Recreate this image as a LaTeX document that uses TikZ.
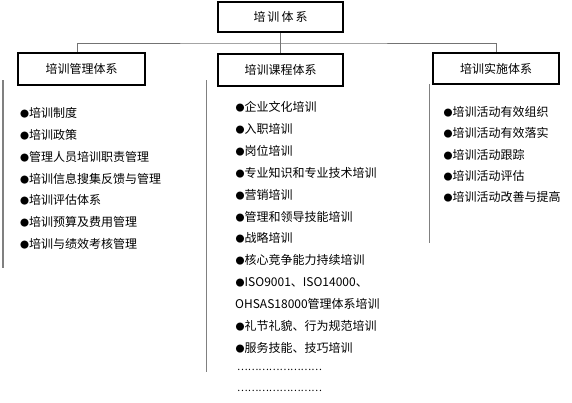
\documentclass[tikz,border=0pt]{standalone}
\usepackage{fontspec}
\setmainfont{Noto Sans CJK SC}
\usepackage{tikz}
\usetikzlibrary{positioning}
\newcommand{\bul}{{\fontsize{9}{9}\selectfont ●}}
\tikzset{box/.style={rectangle,draw=black,line width=1.6pt,inner sep=0pt,
                     font=\fontsize{12}{14}\selectfont},
         link/.style={draw=black!55,line width=0.8pt},
         guide/.style={draw=black!50,line width=1.3pt},
         item/.style={anchor=west,inner sep=0pt,font=\fontsize{12}{14}\selectfont}}

\begin{document}
\begin{tikzpicture}[x=1pt,y=-1pt]

\useasboundingbox (0,0) rectangle (572,402);

%Boxes
 \node[box,minimum width=125pt,minimum height=30pt] (Root) at (280.5,17) {培\kern2pt 训\kern2pt 体\kern2pt 系};
 \node[box,minimum width=127pt,minimum height=32pt] (Mgmt) at (81.5,69) {培训管理体系};
 \node[box,minimum width=125pt,minimum height=32pt] (Course) at (280.5,70) {培训课程体系};
 \node[box,minimum width=126pt,minimum height=31pt] (Impl) at (496,68.5) {培训实施体系};

%Connectors
 \coordinate (Bar) at (280.5,43);
 \draw[link] ([xshift=-4pt]Mgmt.north) |- (Bar) -| (Impl.north);
 \draw[link] (Root.south) -- (Course.north);

%Side lines
 \draw[guide] (3,80) -- (3,268);
 \draw[guide] (206.5,80) -- (206.5,372);
 \draw[guide] (429.5,84) -- (429.5,243);

%Lists
 \foreach \txt [count=\i] in {培训制度,培训政策,管理人员培训职责管理,培训信息搜集反馈与管理,
                              培训评估体系,培训预算及费用管理,培训与绩效考核管理}
 {\node[item] (MgmtItem\i) at (20,113+21.8*\i-21.8) {\bul\txt};}

 \foreach \txt [count=\i] in {企业文化培训,入职培训,岗位培训,专业知识和专业技术培训,营销培训,
                              管理和领导技能培训,战略培训,核心竞争能力持续培训,ISO9001、ISO14000、}
 {\node[item] (CourseItem\i) at (235.5,107+21.9*\i-21.9) {\bul\txt};}
 \node[item] (CourseItem10) at (235,304) {OHSAS18000管理体系培训};
 \node[item] (CourseItem11) at (235.5,326) {\bul 礼节礼貌、行为规范培训};
 \node[item] (CourseItem12) at (235.5,348) {\bul 服务技能、技巧培训};
 \node[item] (CourseDots1) at (237,370) {\fontsize{10}{10}\selectfont ……………………};
 \node[item] (CourseDots2) at (237,391) {\fontsize{10}{10}\selectfont ……………………};

 \foreach \txt [count=\i] in {培训活动有效组织,培训活动有效落实,培训活动跟踪,培训活动评估,培训活动改善与提高}
 {\node[item] (ImplItem\i) at (443.5,112+21.3*\i-21.3) {\bul\txt};}

\end{tikzpicture}
\end{document}
